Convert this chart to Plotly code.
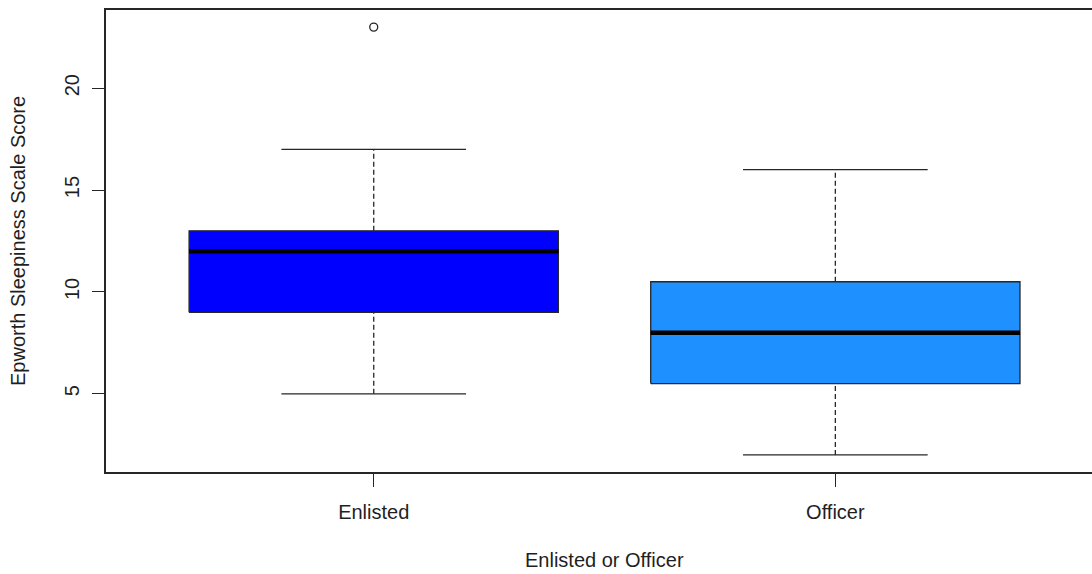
import plotly.graph_objects as go

# ---- data ----
categories = ["Enlisted", "Officer"]
lower_whisker = [5, 2]
q1 = [9, 5.5]
median = [12, 8]
q3 = [13, 10.5]
upper_whisker = [17, 16]
outlier_group = ["Enlisted"]
outlier_value = [23]
box_colors = ["#0000FF", "#1E90FF"]

y_ticks = [5, 10, 15, 20]
x_title = "Enlisted or Officer"
y_title = "Epworth Sleepiness Scale Score"

BOX_HALF = 0.4
CAP_HALF = 0.2
EDGE = "#262626"
TXT = "#1f1f1f"
FONT = "Liberation Sans, Arial, sans-serif"

fig = go.Figure()

for i, cat in enumerate(categories):
    x = i + 1
    # whiskers (dashed)
    fig.add_trace(go.Scatter(
        x=[x, x, None, x, x],
        y=[lower_whisker[i], q1[i], None, q3[i], upper_whisker[i]],
        mode="lines", line=dict(color=EDGE, width=1.3, dash="5px,3px"),
        showlegend=False, hoverinfo="skip"))
    # caps
    fig.add_trace(go.Scatter(
        x=[x - CAP_HALF, x + CAP_HALF, None, x - CAP_HALF, x + CAP_HALF],
        y=[lower_whisker[i], lower_whisker[i], None, upper_whisker[i], upper_whisker[i]],
        mode="lines", line=dict(color=EDGE, width=1.3),
        showlegend=False, hoverinfo="skip"))
    # box
    fig.add_trace(go.Scatter(
        x=[x - BOX_HALF, x + BOX_HALF, x + BOX_HALF, x - BOX_HALF, x - BOX_HALF],
        y=[q1[i], q1[i], q3[i], q3[i], q1[i]],
        mode="lines", fill="toself", fillcolor=box_colors[i],
        line=dict(color=EDGE, width=1.3),
        showlegend=False, name=cat))
    # median
    fig.add_trace(go.Scatter(
        x=[x - BOX_HALF, x + BOX_HALF],
        y=[median[i], median[i]],
        mode="lines", line=dict(color="#000000", width=4.5),
        showlegend=False, hoverinfo="skip"))

# outliers
fig.add_trace(go.Scatter(
    x=[categories.index(g) + 1 for g in outlier_group],
    y=outlier_value,
    mode="markers",
    marker=dict(symbol="circle-open", size=8, color=EDGE, line=dict(width=1.3)),
    showlegend=False))

fig.update_layout(
    width=1092, height=574,
    margin=dict(l=106, r=0, t=10, b=102, autoexpand=False),
    paper_bgcolor="white", plot_bgcolor="white",
    font=dict(family=FONT, size=20, color=TXT),
    showlegend=False,
    annotations=[
        dict(text=x_title, xref="x", x=1.5, yref="paper", y=0,
             xanchor="center", yanchor="middle", yshift=-88, showarrow=False,
             font=dict(family=FONT, size=20, color=TXT)),
        dict(text=y_title, xref="paper", x=0, yref="y", y=12.5,
             xanchor="center", yanchor="middle", xshift=-88, textangle=-90,
             showarrow=False, font=dict(family=FONT, size=20, color=TXT)),
    ],
)

fig.update_xaxes(
    range=[0.42, 2.556], automargin=False,
    tickmode="array", tickvals=[1, 2], ticktext=categories,
    ticks="outside", ticklen=13, tickwidth=1.3, tickcolor=EDGE,
    ticklabelstandoff=8,
    showline=True, linecolor=EDGE, linewidth=1.5, mirror=True,
    showgrid=False, zeroline=False,
    tickfont=dict(family=FONT, size=20, color=TXT),
)
fig.update_yaxes(
    range=[1.16, 23.84], automargin=False,
    tickmode="array", tickvals=y_ticks, ticktext=[str(v) for v in y_ticks],
    tickangle=-90,
    ticks="outside", ticklen=12, tickwidth=1.3, tickcolor=EDGE,
    ticklabelstandoff=5,
    showline=True, linecolor=EDGE, linewidth=1.5, mirror=False,
    showgrid=False, zeroline=False,
    tickfont=dict(family=FONT, size=20, color=TXT),
)

fig.write_html(
    "out.html",
    config={"displayModeBar": False},
    post_script="document.body.style.margin='0px';document.body.style.overflow='hidden';",
)
